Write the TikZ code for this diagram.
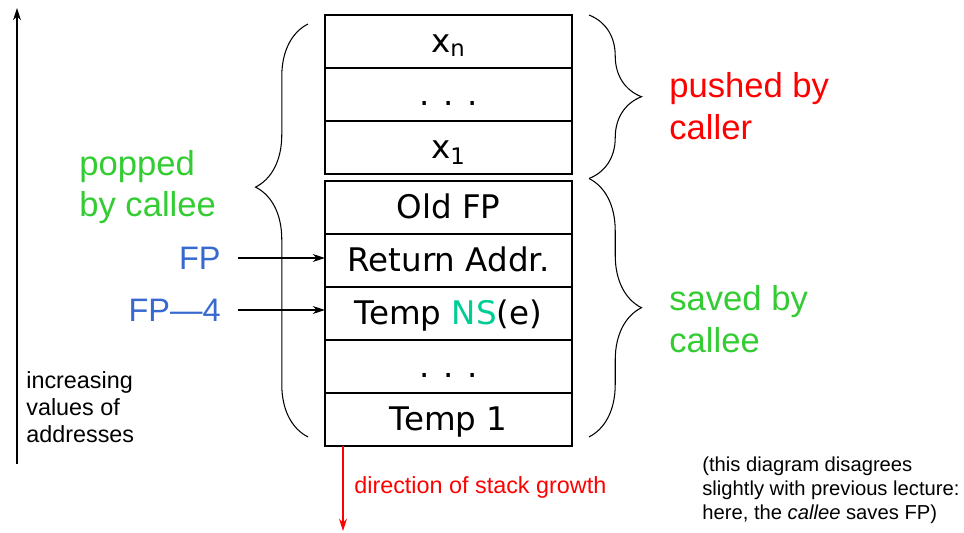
\documentclass[tikz,border=0pt]{standalone}
\usepackage{fontspec}
\setmainfont{Liberation Sans}
\newfontfamily\stackfont{DejaVu Sans}
\usetikzlibrary{positioning,arrows.meta,decorations.pathreplacing}
\definecolor{calleegreen}{RGB}{51,204,51}
\definecolor{fpblue}{RGB}{55,105,208}
\definecolor{nsteal}{RGB}{0,204,150}

\begin{document}
\begin{tikzpicture}[x=0.02cm,y=-0.02cm,
  cell/.style={draw,line width=0.8pt,minimum width=4.94cm,minimum height=1.06cm,
    inner sep=0pt,outer sep=0pt,text height=1.45em,text depth=0.22em,
    font=\stackfont\fontsize{18.5}{22}\selectfont},
  big/.style={align=left,inner sep=0pt,anchor=west,font=\fontsize{19.7}{23.8}\selectfont},
  small/.style={align=left,inner sep=0pt,anchor=west,font=\fontsize{13.3}{15.3}\selectfont},
  note/.style={align=left,inner sep=0pt,anchor=west,font=\fontsize{11.5}{13.6}\selectfont},
  addr/.style={inner sep=0pt,anchor=east,text=fpblue,font=\fontsize{18.5}{22}\selectfont},
  ptr/.style={-{Stealth[length=7pt,width=4.5pt]},line width=0.6pt},
  curly/.style={decorate,decoration={brace,amplitude=1.05cm,aspect=#1},line width=0.6pt},
  curly/.default=0.5]
  \useasboundingbox (0,0) rectangle (964,533);

  \node[cell] (xn) at (448.5,41.5) {x\textsubscript{n}};
  \node[cell,below=0pt of xn] (argdots) {. . .};
  \node[cell,below=0pt of argdots] (x1) {x\textsubscript{1}};
  \node[cell,below=0.14cm of x1] (oldfp) {Old FP};
  \node[cell,below=0pt of oldfp] (ret) {Return Addr.};
  \node[cell,below=0pt of ret] (tmpns) {Temp \textcolor{nsteal}{NS}(e)};
  \node[cell,below=0pt of tmpns] (tmpdots) {. . .};
  \node[cell,below=0pt of tmpdots] (tmp1) {Temp 1};

  \draw[curly=0.605] ([xshift=-0.34cm,yshift=0.18cm]tmp1.south west)
    -- ([xshift=-0.34cm,yshift=-0.18cm]xn.north west);
  \coordinate (split) at (589,178.5);
  \draw[curly] ([xshift=0.34cm]xn.north east) -- (split);
  \draw[curly] (split) -- ([xshift=0.34cm,yshift=0.18cm]tmp1.south east);

  \node[big,text=calleegreen] (popped) at (79,187) {popped\\by callee};
  \node[big,text=red] (pushed) at (669,106) {pushed by\\caller};
  \node[big,text=calleegreen] (saved) at (669,319) {saved by\\callee};

  \node[addr] (fp) at (221,258) {FP};
  \node[addr] (fpm) at (221,310) {FP\textemdash4};
  \draw[ptr] ([xshift=0.34cm]fp.east) -- (fp.east -| ret.west);
  \draw[ptr] ([xshift=0.34cm]fpm.east) -- (fpm.east -| tmpns.west);

  \coordinate (hi) at (17,8);
  \coordinate (lo) at (17,464);
  \draw[ptr] (lo) -- (hi);
  \node[small] (incr) at (26,407) {increasing\\values of\\addresses};

  \coordinate (growth) at (343,531);
  \draw[ptr,red] (growth |- tmp1.south) -- (growth);
  \node[small,text=red] (growthlbl) at (354,487) {direction of stack growth};

  \node[note] (remark) at (702,490) {(this diagram disagrees\\slightly with previous lecture:\\here, the \textit{callee} saves FP)};
\end{tikzpicture}
\end{document}
